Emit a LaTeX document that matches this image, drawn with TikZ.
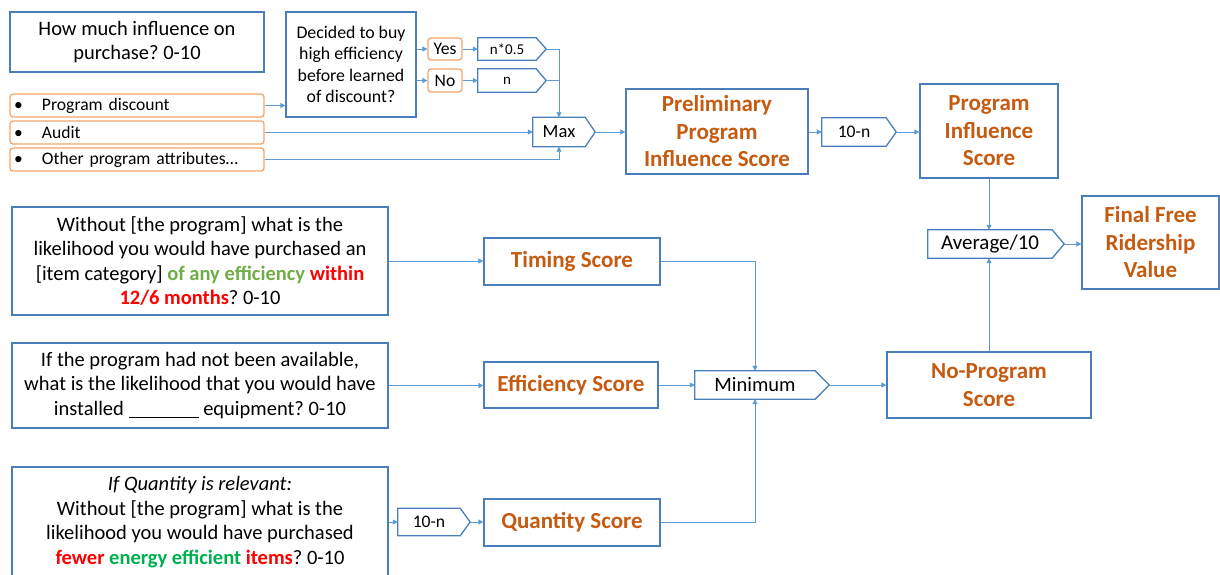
\documentclass[tikz,border=0pt]{standalone}
\usepackage{fontspec}
\setmainfont{Carlito}
\frenchspacing
\usetikzlibrary{arrows.meta}
\definecolor{boxblue}{HTML}{4A7EBB}
\definecolor{arrblue}{HTML}{5B9BD5}
\definecolor{otext}{HTML}{C55A11}
\definecolor{oborder}{HTML}{F4A46A}
\definecolor{gtext}{HTML}{70AD47}
\definecolor{gtext2}{HTML}{00B050}
\definecolor{rtext}{HTML}{FF0000}
\tikzset{
  bx/.style={draw=boxblue, line width=1.3pt, inner sep=0pt, align=center, text=black},
  qtext/.style={font=\fontsize{20.5}{24.5}\selectfont},
  dtext/.style={font=\fontsize{17.8}{21.5}\selectfont},
  score/.style={bx, text=otext, font=\fontsize{23}{27.5}\selectfont\bfseries},
  obox/.style={draw=oborder, line width=1.3pt, rounded corners=3pt, inner sep=0pt, font=\fontsize{17.6}{19}\selectfont},
  pentnode/.style={inner sep=0pt},
  pentline/.style={draw=boxblue, line width=1.3pt, line join=miter},
  arr/.style={draw=arrblue, line width=0.8pt, -{Triangle[length=5pt,width=5pt]}},
  ln/.style={draw=arrblue, line width=0.8pt},
}
\newcommand\pentshape[8]{%
  \node[pentnode, minimum width=#4, minimum height=#5, font=#8] (#1) at ({#2+#4/2},#3) {#7};
  \draw[pentline] (#1.north west) -- (#1.north east) -- ([xshift=#6]#1.east) coordinate (#1-tip) -- (#1.south east) -- (#1.south west) -- cycle;
}
\begin{document}
\begin{tikzpicture}[x=1pt,y=-1pt]
\useasboundingbox (0,0) rectangle (1220,574);

% top-left question
\node[bx, qtext, minimum width=254, minimum height=60] (q1) at (137,42) {How much influence on\\purchase? 0-10};
% orange option boxes
\node[obox, minimum width=254, minimum height=23, text width=246, align=left] (b1) at (137,105.5) {\makebox[28pt][l]{\textbullet}Program discount};
\node[obox, minimum width=254, minimum height=23, text width=246, align=left] (b2) at (137,132.5) {\makebox[28pt][l]{\textbullet}Audit};
\node[obox, minimum width=254, minimum height=23, text width=246, align=left] (b3) at (137,159.5) {\makebox[28pt][l]{\textbullet}Other program attributes…};

\node[bx, dtext, minimum width=130, minimum height=105] (dec) at (351,64.5) {Decided to buy\\high efficiency\\before learned\\of discount?};
\node[obox, minimum width=34, minimum height=22] (yes) at (445,49) {Yes};
\node[obox, minimum width=34, minimum height=23] (no) at (445,80.5) {No};

\pentshape{pnh}{478}{49}{58}{22}{10}{n*0.5}{\fontsize{15}{16}\selectfont}
\pentshape{pn}{478}{80.5}{58}{23}{10}{n}{\fontsize{15}{16}\selectfont}
\pentshape{max}{533}{132}{52}{29}{10}{Max}{\fontsize{18.5}{20}\selectfont}

\node[score, minimum width=182, minimum height=85] (prelim) at (717,131.5) {Preliminary\\Program\\Influence Score};
\pentshape{tenn}{822}{132}{64}{28}{10}{10-n}{\fontsize{17.6}{19}\selectfont}
\node[score, minimum width=138, minimum height=94] (pis) at (989,131) {Program\\Influence\\Score};
\pentshape{avg}{928}{244}{124}{28}{12}{Average/10}{\fontsize{21}{22}\selectfont}
\node[score, minimum width=137, minimum height=93] (final) at (1150.5,242.5) {Final Free\\Ridership\\Value};

% question boxes
\node[bx, qtext, minimum width=376, minimum height=108] (q2) at (200,261) {Without [the program] what is the\\likelihood you would have purchased an\\[0pt][item category] \textbf{\color{gtext}of any efficiency} \textbf{\color{rtext}within}\\\textbf{\color{rtext}12/6 months}? 0-10};
\node[score, minimum width=176, minimum height=47] (timing) at (572,261.5) {Timing Score};

\node[bx, qtext, minimum width=376, minimum height=85] (q3) at (200,385.5) {If the program had not been available,\\what is the likelihood that you would have\\installed \underline{\hspace{70pt}} equipment? 0-10};
\node[score, minimum width=174, minimum height=46] (eff) at (571,385) {Efficiency Score};
\pentshape{minimum}{695}{385}{120}{28}{14}{Minimum}{\fontsize{20.5}{22}\selectfont}
\node[score, minimum width=204, minimum height=66] (nps) at (989,385) {No-Program\\Score};

\node[bx, qtext, minimum width=376, minimum height=110] (q4) at (200,522) {\textit{If Quantity is relevant:}\\Without [the program] what is the\\likelihood you would have purchased\\\textbf{\color{rtext}fewer} \textbf{\color{gtext2}energy efficient} \textbf{\color{rtext}items}? 0-10};
\pentshape{tenq}{398}{522}{62}{27}{10}{10-n}{\fontsize{17.6}{19}\selectfont}
\node[score, minimum width=176, minimum height=47] (qty) at (572,522.5) {Quantity Score};

% connectors
\draw[arr] (b1.east) -- (b1.east -| dec.west);
\draw[arr] (dec.east |- yes.west) -- (yes.west);
\draw[arr] (dec.east |- no.west) -- (no.west);
\draw[arr] (yes.east) -- (pnh.west);
\draw[arr] (no.east) -- (pn.west);
\draw[arr] (pnh-tip) -| (max.north);
\draw[ln] (pn-tip) -- (pn-tip -| max.north);
\draw[arr] (b2.east |- max.west) -- (max.west);
\draw[arr] (b3.east) -| (max.south);
\draw[arr] (max-tip) -- (max-tip -| prelim.west);
\draw[arr] (prelim.east |- tenn.west) -- (tenn.west);
\draw[arr] (tenn-tip) -- (tenn-tip -| pis.west);
\draw[arr] (pis.south) -- (pis.south |- avg.north);
\draw[arr] (avg-tip) -- (avg-tip -| final.west);
\draw[arr] (nps.north) -- (nps.north |- avg.south);
\draw[arr] (q2.east) -- (q2.east -| timing.west);
\draw[arr] (timing.east) -| (minimum.north);
\draw[arr] (q3.east) -- (q3.east -| eff.west);
\draw[arr] (eff.east) -- (eff.east -| minimum.west);
\draw[arr] (minimum-tip) -- (minimum-tip -| nps.west);
\draw[arr] (q4.east) -- (q4.east -| tenq.west);
\draw[arr] (tenq-tip) -- (tenq-tip -| qty.west);
\draw[arr] (qty.east) -| (minimum.south);
\end{tikzpicture}
\end{document}
